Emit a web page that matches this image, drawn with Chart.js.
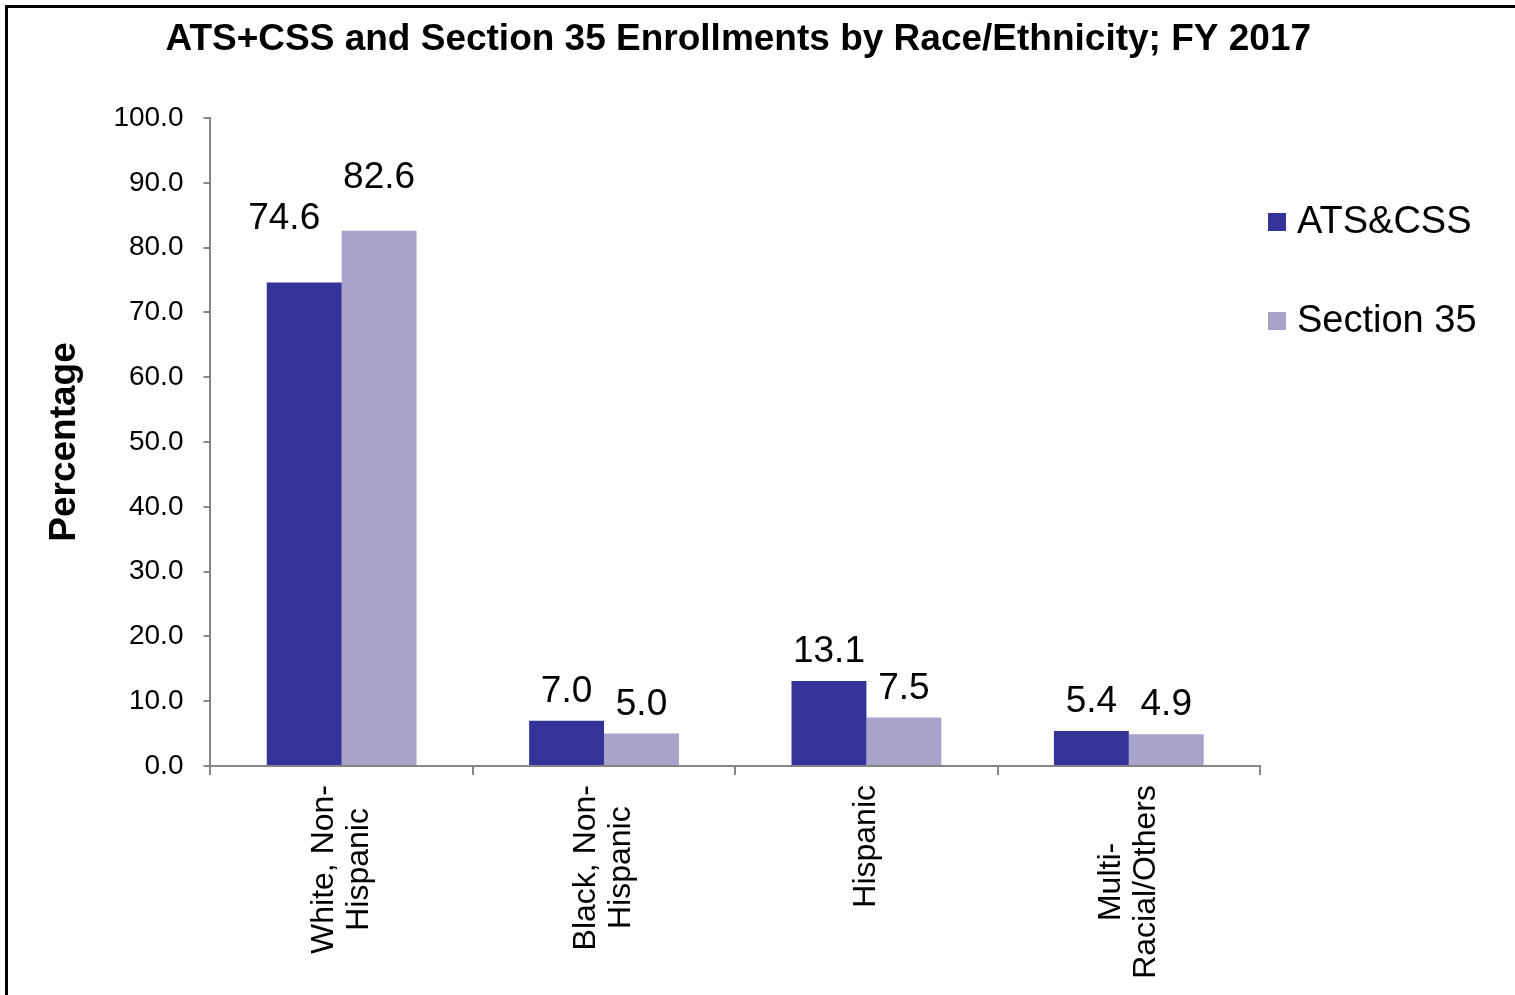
<!DOCTYPE html>
<html>
<head>
<meta charset="utf-8">
<script src="https://cdn.jsdelivr.net/npm/chart.js@4.4.1/dist/chart.umd.min.js"></script>
<style>
    html, body { margin: 0; padding: 0; background: #fff; overflow: hidden; }
    #wrap { position: relative; width: 1515px; height: 995px; }
    #frame {
        position: absolute; left: 5px; top: 5px; width: 2000px; height: 2000px;
        border-left: 3px solid #000; border-top: 3px solid #000; pointer-events: none;
    }
</style>
</head>
<body>
<div id="wrap">
    <canvas id="chart"></canvas>
    <div id="frame"></div>
</div>
<script>
// Data
const chartTitle = 'ATS+CSS and Section 35 Enrollments by Race/Ethnicity; FY 2017';
const categories = [
    ['White, Non-', 'Hispanic'],
    ['Black, Non-', 'Hispanic'],
    ['Hispanic'],
    ['Multi-', 'Racial/Others']
];
const atsCss = [74.6, 7.0, 13.1, 5.4];
const section35 = [82.6, 5.0, 7.5, 4.9];
const yTicks = [0, 10, 20, 30, 40, 50, 60, 70, 80, 90, 100];

const FONT = "'Liberation Sans', Arial, Helvetica, sans-serif";
Chart.defaults.font.family = FONT;
Chart.defaults.color = '#000';

// manual label nudges (like the hand-moved labels in the original)
const labelNudge = { '0-0': [-20, -35], '1-0': [0, -24] };

// title (drawn here so it is not squeezed to the plot width)
const topTitle = {
    id: 'topTitle',
    afterDraw(chart) {
        const ctx = chart.ctx;
        const area = chart.chartArea;
        ctx.save();
        ctx.font = 'bold 37px ' + FONT;
        ctx.fillStyle = '#000';
        ctx.textAlign = 'center';
        ctx.textBaseline = 'middle';
        ctx.fillText(chartTitle, (area.left + area.right) / 2 + 3, 40);
        ctx.restore();
    }
};

// value labels above bars
const valueLabels = {
    id: 'valueLabels',
    afterDatasetsDraw(chart) {
        const ctx = chart.ctx;
        ctx.save();
        ctx.font = '37px ' + FONT;
        ctx.fillStyle = '#000';
        ctx.textAlign = 'center';
        ctx.textBaseline = 'middle';
        chart.data.datasets.forEach((ds, di) => {
            chart.getDatasetMeta(di).data.forEach((bar, i) => {
                const n = labelNudge[di + '-' + i] || [0, 0];
                ctx.fillText(ds.data[i].toFixed(1), bar.x + n[0], bar.y - 29 + n[1]);
            });
        });
        ctx.restore();
    }
};

// category labels, rotated, lines centered
const catLabels = {
    id: 'catLabels',
    afterDraw(chart) {
        const ctx = chart.ctx;
        const xs = chart.scales.x;
        const lineH = 35;
        ctx.save();
        ctx.font = '32px ' + FONT;
        ctx.fillStyle = '#000';
        ctx.textAlign = 'center';
        ctx.textBaseline = 'middle';
        categories.forEach((lines, i) => {
            const x = xs.getPixelForValue(i);
            const maxW = Math.max(...lines.map(l => ctx.measureText(l).width));
            ctx.save();
            ctx.translate(x, xs.top + 19);
            ctx.rotate(-Math.PI / 2);
            lines.forEach((l, j) => {
                ctx.fillText(l, -maxW / 2, (j - (lines.length - 1) / 2) * lineH);
            });
            ctx.restore();
        });
        ctx.restore();
    }
};

// legend on the right
const sideLegend = {
    id: 'sideLegend',
    afterDraw(chart) {
        const ctx = chart.ctx;
        const area = chart.chartArea;
        ctx.save();
        ctx.font = '38px ' + FONT;
        ctx.textBaseline = 'middle';
        ctx.textAlign = 'left';
        chart.data.datasets.forEach((ds, i) => {
            const y = area.top + 104 + i * 99;
            ctx.fillStyle = ds.backgroundColor;
            ctx.fillRect(area.right + 8, y - 9, 18, 18);
            ctx.fillStyle = '#000';
            ctx.fillText(ds.label, area.right + 37, y + 1);
        });
        ctx.restore();
    }
};

new Chart(document.getElementById('chart'), {
    type: 'bar',
    data: {
        labels: categories,
        datasets: [
            { label: 'ATS&CSS', data: atsCss, backgroundColor: '#333399' },
            { label: 'Section 35', data: section35, backgroundColor: '#A7A3C9' }
        ]
    },
    options: {
        responsive: true,
        maintainAspectRatio: false,
        animation: false,
        categoryPercentage: 0.571,
        barPercentage: 1.0,
        layout: { padding: { left: 10, right: 255, top: 118, bottom: 0 } },
        plugins: {
            legend: { display: false },
            tooltip: { enabled: false },
            title: { display: false }
        },
        scales: {
            x: {
                ticks: { display: false },
                grid: { drawOnChartArea: false, drawTicks: true, tickLength: 9, color: '#868686', lineWidth: 2 },
                border: { display: true, color: '#868686', width: 2 },
                afterFit(scale) { scale.height = 229; }
            },
            y: {
                min: 0,
                max: 100,
                afterBuildTicks(scale) { scale.ticks = yTicks.map(v => ({ value: v })); },
                ticks: {
                    font: { size: 28 },
                    color: '#000',
                    padding: 20,
                    callback: v => v.toFixed(1)
                },
                grid: { drawOnChartArea: false, drawTicks: true, tickLength: 7, color: '#868686', lineWidth: 2 },
                border: { display: true, color: '#868686', width: 2 },
                title: {
                    display: true,
                    text: 'Percentage',
                    font: { size: 37, weight: 'bold' },
                    color: '#000',
                    padding: { top: 33, bottom: 6 }
                }
            }
        }
    },
    plugins: [topTitle, valueLabels, catLabels, sideLegend]
});
</script>
</body>
</html>
